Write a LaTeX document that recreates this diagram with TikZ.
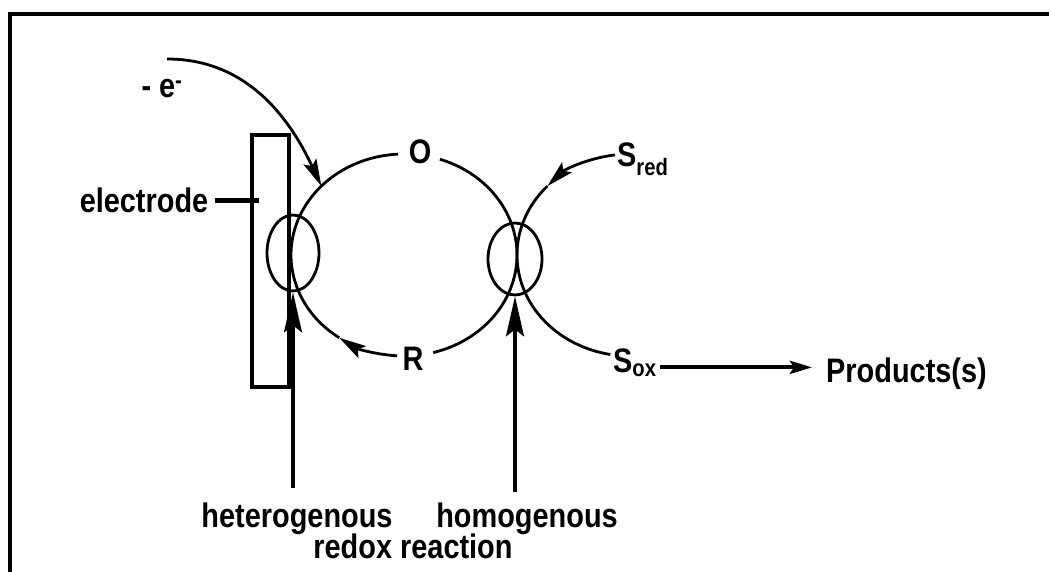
\documentclass[tikz,border=0pt]{standalone}
\usepackage{fontspec}
\setmainfont{Liberation Sans}[FakeStretch=0.85]
\usetikzlibrary{arrows.meta, shapes.geometric, calc}

\begin{document}
\begin{tikzpicture}[
  x=1pt, y=1pt,
  font=\fontsize{34}{40}\selectfont\bfseries,
  txt/.style={inner sep=0pt},
  loopline/.style={line width=2.8pt},
  zone/.style={draw, ellipse, line width=2.8pt, inner sep=0pt},
  arrow/.style={line width=2.8pt, -{Stealth[length=27pt, width=14pt, inset=5pt]}},
  probe/.style={line width=3.2pt, -{Stealth[length=40pt, width=18pt, inset=7pt]}},
  flow/.style={line width=4pt, -{Stealth[length=22pt, width=13pt, inset=4pt]}},
]
\useasboundingbox (0,0) rectangle (1049,-572);

% frame
\draw[line width=4pt] (10,-572) -- (10,-14) -- (1049,-14);

% electrode
\node[draw, line width=3.5pt, minimum width=37pt, minimum height=252pt, inner sep=0pt] (rod) at (270.5,-261) {};
\node[txt, anchor=base] (elec) at (144,-213) {electrode};
\draw[line width=5pt] ([xshift=7pt]elec.east) -- ([xshift=9pt]rod.west |- elec.east);

% centres of the two cycles
\coordinate (loopc) at (404,-255);
\coordinate (sloopc) at (630,-255);

% labels
\node[txt, anchor=base] (ox) at (420,-164) {O};
\node[txt, anchor=base] (red) at (413,-370) {R};
\node[txt, anchor=base west] (sred) at (617,-167) {S\textsubscript{red}};
\node[txt, anchor=base west] (sox) at (613,-372) {S\textsubscript{ox}};
\node[txt, anchor=base west] (prod) at (826,-382) {Products(s)};
\node[txt, anchor=base] (elec-e) at (162,-98) {- e\textsuperscript{-}};
\node[txt, anchor=base] (het) at (297,-527) {heterogenous};
\node[txt, anchor=base] (hom) at (527,-527) {homogenous};
\node[txt, anchor=base] (redox) at (413,-558) {redox reaction};

% reaction zones
\node[zone, minimum width=52pt, minimum height=76pt] (hetzone) at (293,-253) {};
\node[zone, minimum width=54pt, minimum height=72pt] (homzone) at (515,-259) {};

% O / R cycle
\draw[loopline] ($(loopc)+(71.5:113 and 101)$) arc[start angle=71.5, end angle=-75, x radius=113, y radius=101];
\draw[arrow] ($(loopc)+(266.5:113 and 101)$) arc[start angle=266.5, end angle=235, x radius=113, y radius=101];
\draw[loopline] ($(loopc)+(235:113 and 101)$) arc[start angle=235, end angle=93, x radius=113, y radius=101];

% substrate cycle
\draw[arrow] ($(sloopc)+(97.6:113 and 101)$) arc[start angle=97.6, end angle=137, x radius=113, y radius=101];
\draw[loopline] ($(sloopc)+(137:113 and 101)$) arc[start angle=137, end angle=260, x radius=113, y radius=101];

% electron transfer
\coordinate (estart) at (167,-59);
\coordinate (ein) at ($(loopc)+(137:113 and 101)$);
\draw[arrow] (estart) to[out=0, in=115] (ein);

% products
\draw[flow] ([xshift=3pt, yshift=-5pt]sox.east) -- ([xshift=-14pt, yshift=-5pt]sox.east -| prod.west);

% pointers to the zones
\draw[probe] ([yshift=14pt]het.north -| hetzone.south) -- (hetzone.south);
\draw[probe] ([yshift=10pt]hom.north -| homzone.south) -- (homzone.south);

\end{tikzpicture}
\end{document}
